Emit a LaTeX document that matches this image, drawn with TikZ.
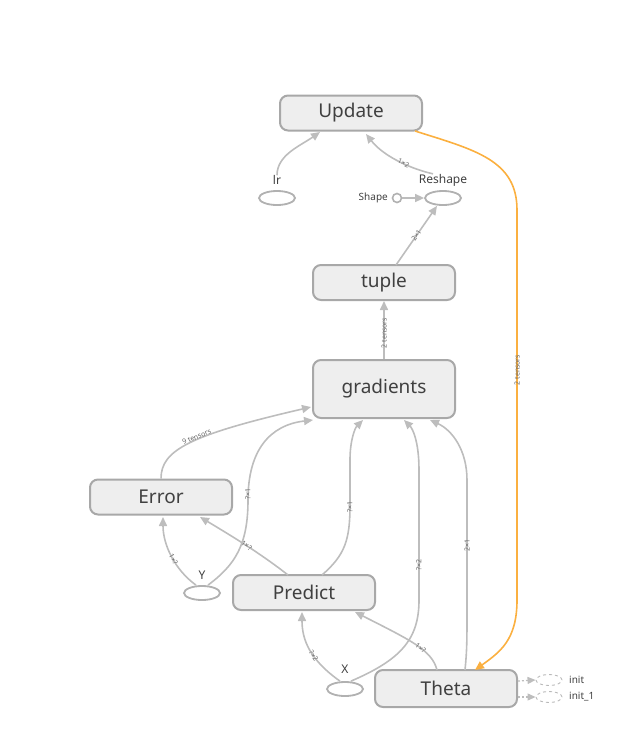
\documentclass[tikz,border=0pt]{standalone}
\usepackage{fontspec}
\setmainfont{Noto Sans}
\usetikzlibrary{shapes.geometric,arrows.meta}
\definecolor{nodefill}{HTML}{EEEEEE}
\definecolor{nodeline}{HTML}{A8A8A8}
\definecolor{edgec}{HTML}{BDBDBD}
\definecolor{txt}{HTML}{404040}
\definecolor{orangec}{HTML}{FBB040}
\tikzset{
  opnode/.style={draw=nodeline, fill=nodefill, line width=2pt, rounded corners=8pt,
    minimum width=142pt, minimum height=35pt, inner sep=0pt, text=txt, font=\fontsize{19}{20}\selectfont},
  ellnode/.style={ellipse, draw=nodeline!90, line width=1.8pt, minimum width=36pt, minimum height=14pt, inner sep=0pt},
  dashell/.style={ellipse, draw=nodeline!80, dashed, line width=0.9pt, minimum width=26pt, minimum height=11pt, inner sep=0pt},
  lab/.style={text=txt, font=\fontsize{12}{13}\selectfont, inner sep=0pt},
  slab/.style={text=txt, font=\fontsize{10}{11}\selectfont, inner sep=0pt},
  elab/.style={text=txt!80, font=\fontsize{7}{7}\selectfont, sloped, inner sep=0.5pt},
  vlab/.style={text=txt!80, font=\fontsize{7}{7}\selectfont, rotate=90, inner sep=0.5pt},
  edge/.style={draw=edgec, line width=1.6pt, -{Triangle[length=9pt,width=8pt]}},
  oedge/.style={draw=orangec, line width=1.6pt, -{Triangle[length=9pt,width=8pt]}},
  dedge/.style={draw=edgec, line width=1.2pt, dashed, dash pattern=on 2pt off 2pt, -{Triangle[length=8pt,width=7pt]}}
}
\begin{document}
\begin{tikzpicture}[x=1pt,y=-1pt]
\useasboundingbox (0,0) rectangle (628,737);
% nodes
\node[opnode] (update) at (351,113) {Update};
\node[ellnode] (lr) at (277,198) {};
\node[lab] (lrlab) at (277,180) {lr};
\node[ellnode] (reshape) at (443,198) {};
\node[lab] (reshapelab) at (443,180) {Reshape};
\node[circle, draw=nodeline!90, line width=1.6pt, minimum size=9pt, inner sep=0pt] (shape) at (397,198) {};
\node[slab, anchor=east] (shapelab) at (388,198) {Shape};
\node[opnode] (tuple) at (384,282.5) {tuple};
\node[opnode, minimum height=58pt] (grad) at (384,389) {gradients};
\node[opnode] (error) at (161,497) {Error};
\node[ellnode] (y) at (202,593) {};
\node[lab] (ylab) at (202,575) {Y};
\node[opnode] (predict) at (304,592.5) {Predict};
\node[ellnode] (x) at (345,689) {};
\node[lab] (xlab) at (345,669) {X};
\node[opnode, minimum height=37pt] (theta) at (446,688.5) {Theta};
\node[dashell] (init) at (549,680) {};
\node[slab, anchor=west] (initlab) at (569,680) {init};
\node[dashell] (init1) at (549,697) {};
\node[slab, anchor=west] (init1lab) at (569,697) {init\_1};
% coordinates
\coordinate (uA) at (320,132);
\coordinate (uB) at (366,134);
\coordinate (g1) at (311,407);
\coordinate (g2) at (313,420);
\coordinate (g3) at (363,420);
\coordinate (g4) at (404,420);
\coordinate (g5) at (430,420);
% edges
\draw[edge] (lrlab.north) .. controls (277,155) and (300,146) .. (uA);
\draw[edge] ([xshift=-10pt]reshapelab.north) .. controls (415,170) and (385,158) .. (uB)
  node[elab, pos=0.45] {1×2};
\draw[edge] (shape.east) -- (reshape.west);
\draw[edge] (396,265) -- ([xshift=-6pt]reshape.south) node[elab, pos=0.5] {2×1};
\draw[edge] (grad.north) -- (tuple.south);
\node[vlab] (tlab1) at (384,333) {2 tensors};
\draw[edge] (error.north) .. controls (161,450) and (190,435) .. (g1)
  node[elab, pos=0.55, above=-1pt] {9 tensors};
\draw[edge] ([xshift=6pt]y.north) .. controls (235,565) and (248,545) .. (248,500)
  .. controls (248,450) and (270,425) .. (g2);
\node[vlab] (ylab2) at (248,494) {?×1};
\draw[edge] ([xshift=-6pt]y.north) .. controls (175,570) and (163,545) .. (163,517)
  node[elab, pos=0.45] {1×?};
\draw[edge] (288,575) .. controls (260,553) and (230,535) .. (200,517)
  node[elab, pos=0.48] {1×?};
\draw[edge] (322,575) .. controls (345,555) and (350,540) .. (350,505)
  -- (350,460) .. controls (350,440) and (355,428) .. (g3);
\node[vlab] (plab) at (350,507) {?×1};
\draw[edge] ([xshift=-5pt]x.north) .. controls (310,660) and (302,640) .. (302,612)
  node[elab, pos=0.4] {?×2};
\draw[edge] ([xshift=6pt]x.north) .. controls (400,660) and (419,640) .. (419,600)
  -- (419,470) .. controls (419,440) and (412,428) .. (g4);
\node[vlab] (xlab2) at (419,565) {?×2};
\draw[edge] (437,670) .. controls (432,650) and (410,640) .. (355,612)
  node[elab, pos=0.42] {1×?};
\draw[edge] (465,670) .. controls (467,650) and (467,640) .. (467,610)
  -- (467,480) .. controls (467,450) and (452,430) .. (g5);
\node[vlab] (tlab) at (467,545) {2×1};
\draw[oedge] (415,131) .. controls (475,150) and (517,160) .. (517,210)
  -- (517,600) .. controls (517,640) and (500,652) .. (475,670);
\node[vlab] (olab) at (517,370) {2 tensors};
\draw[dedge] (518,681) -- (init.west);
\draw[dedge] (518,697) -- (init1.west);
\end{tikzpicture}
\end{document}
